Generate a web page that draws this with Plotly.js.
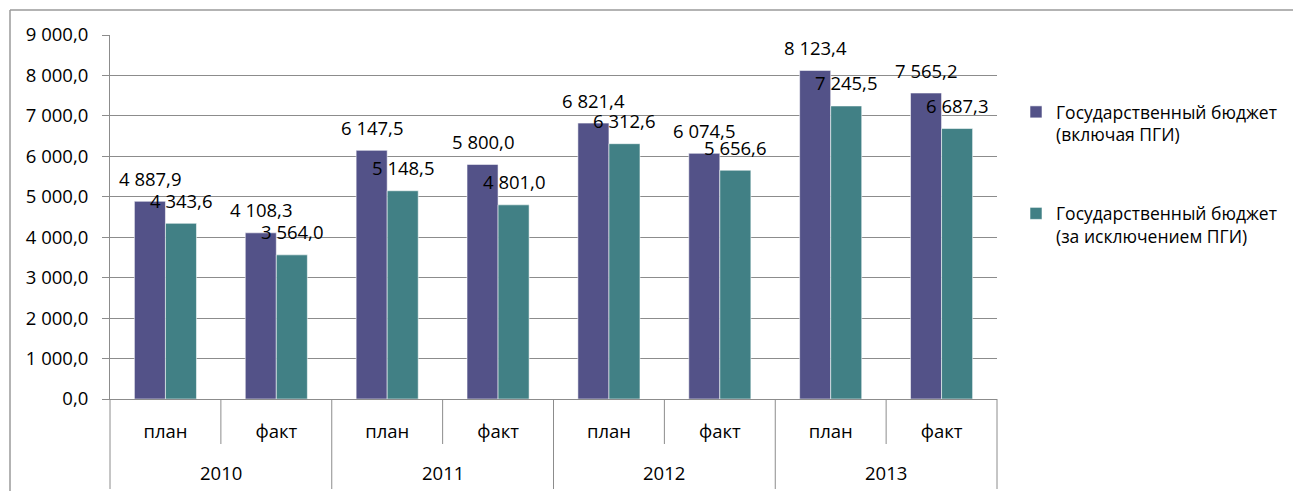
<!DOCTYPE html>
<html>
<head>
<meta charset="utf-8">
<script src="https://cdn.plot.ly/plotly-3.0.1.min.js"></script>
<style>html,body{margin:0;padding:0;background:#fff;}</style>
</head>
<body>
<div id="chart" style="width:1293px;height:491px;"></div>
<script>
// ---- data ----
const categories = ['план', 'факт', 'план', 'факт', 'план', 'факт', 'план', 'факт'];
const years = ['2010', '2011', '2012', '2013'];
const seriesNames = ['Государственный бюджет<br>(включая ПГИ)', 'Государственный бюджет<br>(за исключением ПГИ)'];
const budgetWithPGI = [4887.9, 4108.3, 6147.5, 5800.0, 6821.4, 6074.5, 8123.4, 7565.2];
const budgetWithoutPGI = [4343.6, 3564.0, 5148.5, 4801.0, 6312.6, 5656.6, 7245.5, 6687.3];
const yTickValues = [0, 1000, 2000, 3000, 4000, 5000, 6000, 7000, 8000, 9000];

// ---- styling ----
const FONT = '"Open Sans", "Noto Sans", sans-serif';
const FS = 18.5;
const LFS = 17.5;
const GRID = '#8C8C8C';
const COLORS = ['#535288', '#418085'];
const BARGAP = 0.44;
const W = 1293, H = 491;
const M = {l: 110, r: 296, t: 35, b: 92};
const plotW = W - M.l - M.r, plotH = H - M.t - M.b;

function fmt(v) {
  const s = v.toFixed(1);
  let [ip, dp] = s.split('.');
  ip = ip.replace(/\B(?=(\d{3})+(?!\d))/g, ' ');
  return ip + ',' + dp;
}

const xIdx = categories.map((_, i) => i);
const seriesVals = [budgetWithPGI, budgetWithoutPGI];

const traces = seriesVals.map((vals, s) => ({
  type: 'bar',
  name: seriesNames[s],
  x: xIdx,
  y: vals,
  marker: {color: COLORS[s], line: {color: 'rgba(255,255,255,0.55)', width: 1}},
  legendgroup: 'g' + s,
  hoverinfo: 'skip'
}));

const barW = (1 - BARGAP) / 2;
const annotations = [];
seriesVals.forEach((vals, s) => {
  vals.forEach((v, i) => {
    annotations.push({
      x: i + (s === 0 ? -barW / 2 : barW / 2), y: v, xref: 'x', yref: 'y',
      text: fmt(v), showarrow: false, yanchor: 'middle', yshift: 23,
      font: {family: FONT, size: FS, color: '#000'}
    });
  });
});
// year labels (second category level)
years.forEach((yr, k) => {
  annotations.push({
    x: (2 * k + 1) / categories.length, xref: 'paper',
    y: (399 - 472) / plotH, yref: 'paper',
    text: yr, showarrow: false, yanchor: 'middle', xanchor: 'center',
    font: {family: FONT, size: FS, color: '#000'}
  });
});

const shapes = [];
// category separators
for (let k = 0; k <= categories.length; k++) {
  const long = (k % 2 === 0);
  shapes.push({
    type: 'line', xref: 'paper', yref: 'paper',
    x0: k / categories.length, x1: k / categories.length,
    y0: 0, y1: long ? (399 - 489) / plotH : (399 - 444) / plotH,
    line: {color: GRID, width: 1}
  });
}
// chart area border (left & top)
const bx = (10 - M.l) / plotW, by = (M.t + plotH - 10) / plotH;
shapes.push({type: 'line', xref: 'paper', yref: 'paper', x0: bx, x1: bx, y0: by, y1: -(M.b) / plotH - 0.01, line: {color: '#9a9a9a', width: 1.5}});
shapes.push({type: 'line', xref: 'paper', yref: 'paper', x0: bx, x1: (W - M.l) / plotW + 0.01, y0: by, y1: by, line: {color: '#9a9a9a', width: 1.5}});

const layout = {
  width: W, height: H,
  margin: M,
  paper_bgcolor: '#fff', plot_bgcolor: '#fff',
  separators: ', ',
  font: {family: FONT, size: FS, color: '#000'},
  barmode: 'group', bargap: BARGAP, bargroupgap: 0,
  showlegend: true,
  legend: {
    xref: 'container', yref: 'container',
    x: 1016 / W, xanchor: 'left',
    y: 1 - 94 / H, yanchor: 'top',
    font: {family: FONT, size: LFS, color: '#000'},
    valign: 'top', tracegroupgap: 53, traceorder: 'grouped',
    bgcolor: 'rgba(0,0,0,0)'
  },
  xaxis: {
    range: [-0.5, categories.length - 0.5],
    tickvals: xIdx, ticktext: categories, ticks: '',
    showgrid: false, zeroline: false,
    showline: true, linecolor: GRID, linewidth: 1,
    ticklabelstandoff: 16,
    tickfont: {family: FONT, size: FS, color: '#000'},
    fixedrange: true
  },
  yaxis: {
    range: [0, 9000], tickvals: yTickValues, tickformat: ',.1f',
    showgrid: true, gridcolor: GRID, gridwidth: 1,
    zeroline: false, showline: true, linecolor: GRID, linewidth: 1,
    ticks: 'outside', ticklen: 7, tickcolor: GRID, tickwidth: 1,
    ticklabelstandoff: 10,
    tickfont: {family: FONT, size: FS, color: '#000'},
    fixedrange: true
  },
  annotations: annotations,
  shapes: shapes
};

Plotly.newPlot('chart', traces, layout, {displayModeBar: false, staticPlot: true});
</script>
</body>
</html>
